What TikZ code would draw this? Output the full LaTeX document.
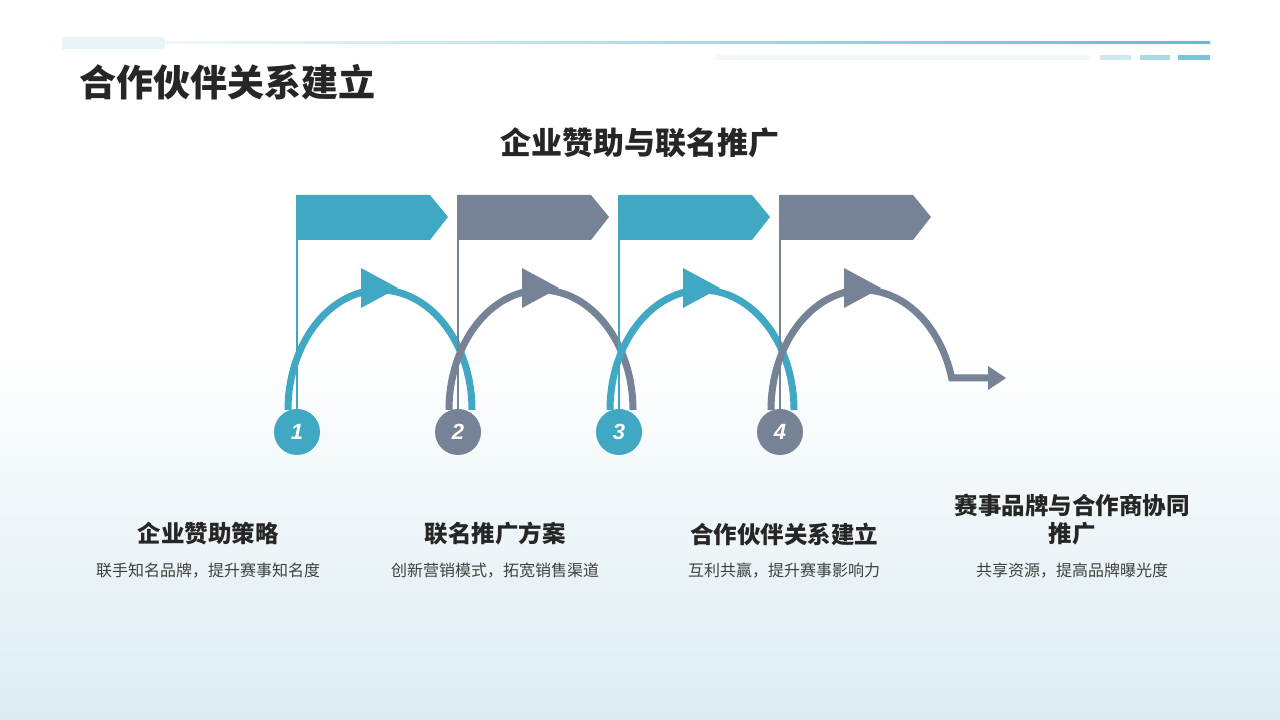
\documentclass[tikz,border=0pt]{standalone}
\usepackage{fontspec}
\newfontfamily\cjk{Noto Sans CJK SC}
\setmainfont{Liberation Sans}
\begin{document}
\begin{tikzpicture}[x=1pt,y=1pt,
  arcline/.style={line width=7pt},
  num/.style={circle,minimum size=46pt,inner sep=0pt,text=white,font=\bfseries\itshape\fontsize{22}{22}\selectfont},
  ttl/.style={font=\cjk\bfseries\fontsize{23.5}{28}\selectfont,text=black!85,align=center},
  dsc/.style={font=\cjk\fontsize{16}{18}\selectfont,text=black!75}]
\definecolor{tealc}{HTML}{41A8C4}
\definecolor{grayc}{HTML}{768396}
\definecolor{bgb}{HTML}{DCECF2}
\useasboundingbox (0,0) rectangle (1280,720);
\fill[white] (0,0) rectangle (1280,720);
\shade[top color=white,bottom color=bgb] (0,370) rectangle (1280,0);
% header
\fill[tealc!12] (62,671) rectangle (165,683);
\shade[left color=tealc!8,right color=tealc!80] (165,676) rectangle (1210,678);
\fill[tealc!8] (716,660) rectangle (1090,665);
\fill[tealc!25] (1100,660) rectangle (1131,665);
\fill[tealc!45] (1140,660) rectangle (1170,665);
\fill[tealc!70] (1178,660) rectangle (1210,665);
\node[anchor=west,font=\cjk\bfseries\fontsize{37}{37}\selectfont,text=black!85] (title) at (76,638) {合作伙伴关系建立};
\node[font=\cjk\bfseries\fontsize{31}{31}\selectfont,text=black!85] (sub) at (640,577) {企业赞助与联名推广};
% flags
\foreach \i/\c in {0/tealc,1/grayc,2/tealc,3/grayc}{
  \pgfmathsetmacro\px{297+161*\i}
  \fill[\c] (\px,525) -- (\px+133,525) -- (\px+151,503) -- (\px+133,480) -- (\px,480) -- cycle;
}
% arcs
\foreach \i/\c in {0/tealc,1/grayc,2/tealc}{
  \pgfmathsetmacro\cx{380+161*\i}
  \draw[\c,arcline] (\cx-92,310) arc[start angle=180,end angle=0,x radius=92,y radius=120];
  \fill[\c] (\cx-19,452) -- (\cx-19,412) -- (\cx+18,432) -- cycle;
}
\draw[grayc,arcline] (771,310) arc[start angle=180,end angle=15.5,x radius=92,y radius=120] -- (990,342);
\fill[grayc] (988,354) -- (988,330) -- (1006,342) -- cycle;
\fill[grayc] (844,452) -- (844,412) -- (881,432) -- cycle;
\foreach \i/\c in {0/tealc,1/grayc,2/tealc,3/grayc}{
  \pgfmathsetmacro\px{297+161*\i}
  \draw[\c,line width=1.5pt] (\px,525) -- (\px,308);
  \node[num,fill=\c] (n\i) at (\px,288) {\number\numexpr\i+1\relax};
}
% texts
\node[ttl] (t1) at (208,186) {企业赞助策略};
\node[dsc] (d1) at (208,149) {联手知名品牌，提升赛事知名度};
\node[ttl] (t2) at (495,186) {联名推广方案};
\node[dsc] (d2) at (495,149) {创新营销模式，拓宽销售渠道};
\node[ttl] (t3) at (784,186) {合作伙伴关系建立};
\node[dsc] (d3) at (784,149) {互利共赢，提升赛事影响力};
\node[ttl] (t4) at (1072,200) {赛事品牌与合作商协同\\推广};
\node[dsc] (d4) at (1072,149) {共享资源，提高品牌曝光度};
\end{tikzpicture}
\end{document}
